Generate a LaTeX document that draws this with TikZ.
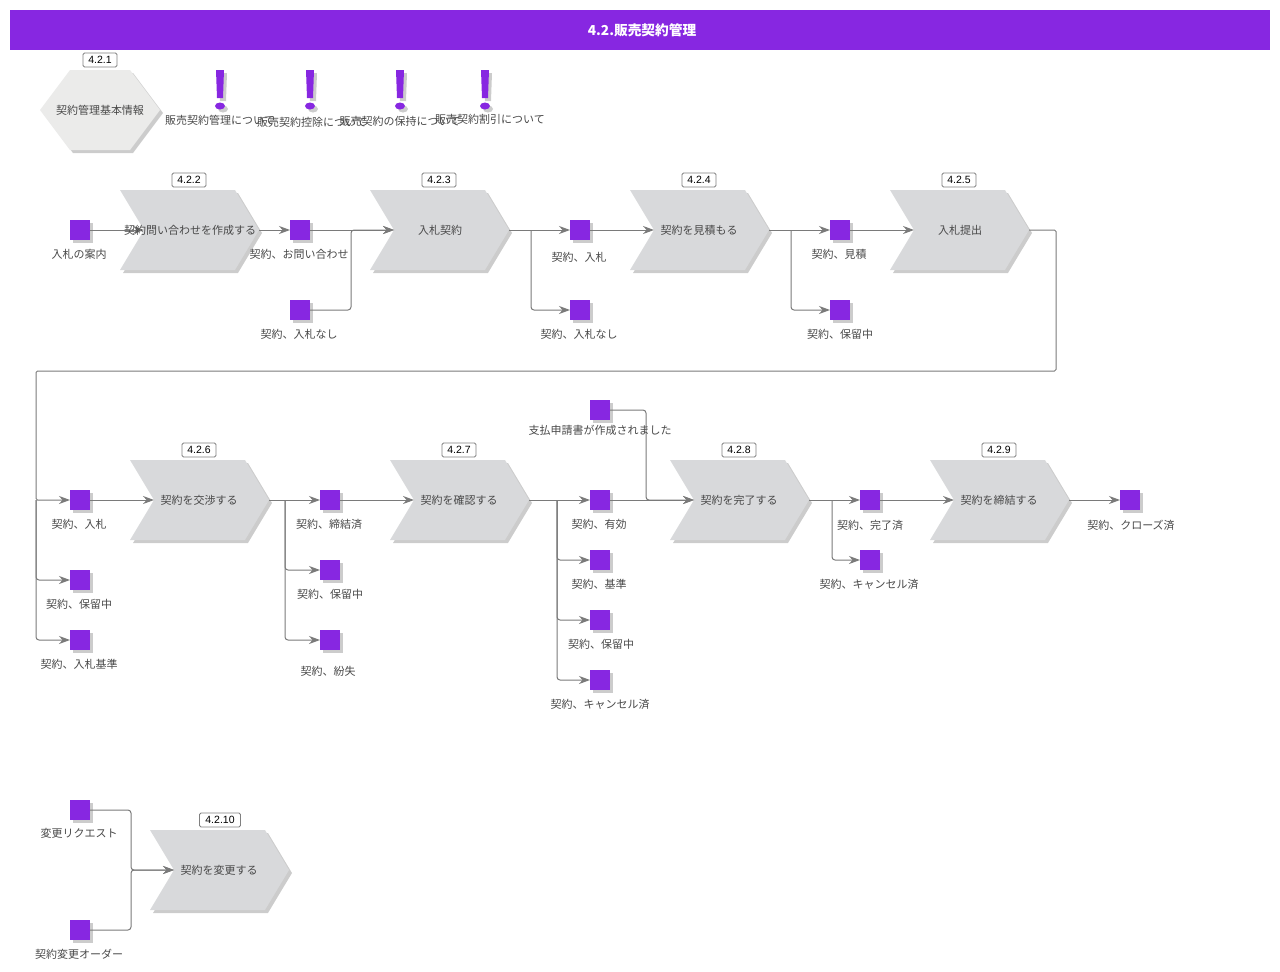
\documentclass[tikz,border=0pt]{standalone}
\usepackage{fontspec}
\setmainfont{Noto Sans CJK JP}
\newfontfamily\numfont{Liberation Sans}
\usetikzlibrary{shapes.symbols,shapes.misc,shadows,arrows.meta}

\definecolor{purp}{HTML}{8727E1}
\definecolor{chev}{HTML}{D8D9DB}
\definecolor{hexa}{HTML}{EBEBEA}
\definecolor{line}{HTML}{7A7A7A}
\definecolor{ink}{HTML}{484848}

\tikzset{
  shade/.style={general shadow={shadow xshift=3pt,shadow yshift=-3pt,fill=black,opacity=.2}},
  warn/.pic={
    \fill[purp,shade] (-4,-20) -- (4,-20) -- (3,8) -- (-3,8) -- cycle;
    \fill[purp,shade] (0,16) ellipse (5 and 3.5);
  }
}

\begin{document}
\begin{tikzpicture}[x=1pt,y=-1pt]

  \tikzstyle{chevron}=[signal,signal to=east,signal from=west,signal pointer angle=118,fill=chev,shade,minimum width=139pt,minimum height=80pt,inner sep=0pt,outer sep=0pt]
  \tikzstyle{state}=[rectangle,fill=purp,shade,minimum size=20pt,inner sep=0pt,outer sep=0pt]
  \tikzstyle{txt}=[inner sep=0pt,text=ink,font=\fontsize{11}{12}\selectfont]
  \tikzstyle{badge}=[draw=black!50,line width=.8pt,fill=white,rounded corners=1.5pt,minimum width=34pt,minimum height=14pt,inner sep=0pt,font=\numfont\fontsize{10.5}{12}\selectfont]
  \tikzstyle{flow}=[draw=line,line width=1pt,rounded corners=3pt,-{Stealth[length=11pt,width=8pt]}]

  \useasboundingbox (0,0) rectangle (1280,972);

  \node[fill=purp,minimum width=1260pt,minimum height=40pt,inner sep=0pt,text=white,font=\bfseries\fontsize{13.7}{15}\selectfont] (head) at (640,30) {\hspace{4pt}4.2.販売契約管理};

  % info
  \path[fill=hexa,shade] (40,110) -- (70,70) -- (130,70) -- (160,110) -- (130,150) -- (70,150) -- cycle;
  \node[txt] (hexname) at (100,110) {契約管理基本情報};
  \node[badge] (b1) at (100,60) {4.2.1};

  \pic at (220,90) {warn};
  \pic at (310,90) {warn};
  \pic at (400,90) {warn};
  \pic at (485,90) {warn};
  \node[txt] (n1) at (220,120) {販売契約管理について};
  \node[txt] (n2) at (312,122) {販売契約控除について};
  \node[txt] (n3) at (400,121) {販売契約の保持について};
  \node[txt] (n4) at (490,119) {販売契約割引について};

  % first row
  \node[chevron] (c2) at (189.5,230) {};
  \node[chevron] (c3) at (439.5,230) {};
  \node[chevron] (c4) at (699.5,230) {};
  \node[chevron] (c5) at (959.5,230) {};

  \node[state] (s1) at (80,230) {};
  \node[state] (s2) at (300,230) {};
  \node[state] (s3) at (300,310) {};
  \node[state] (s4) at (580,230) {};
  \node[state] (s5) at (580,310) {};
  \node[state] (s6) at (840,230) {};
  \node[state] (s7) at (840,310) {};

  % second row
  \node[chevron] (c6) at (199.5,500) {};
  \node[chevron] (c7) at (459.5,500) {};
  \node[chevron] (c8) at (739.5,500) {};
  \node[chevron] (c9) at (999.5,500) {};

  \node[state] (s8) at (80,500) {};
  \node[state] (s9) at (80,580) {};
  \node[state] (s10) at (80,640) {};
  \node[state] (s11) at (330,500) {};
  \node[state] (s12) at (330,570) {};
  \node[state] (s13) at (330,640) {};
  \node[state] (s14) at (600,410) {};
  \node[state] (s15) at (600,500) {};
  \node[state] (s16) at (600,560) {};
  \node[state] (s17) at (600,620) {};
  \node[state] (s18) at (600,680) {};
  \node[state] (s19) at (870,500) {};
  \node[state] (s20) at (870,560) {};
  \node[state] (s21) at (1130,500) {};

  % change
  \node[chevron] (c10) at (219.5,870) {};
  \node[state] (s22) at (80,810) {};
  \node[state] (s23) at (80,930) {};

  % bends
  \coordinate (k1) at (351,230);
  \coordinate (k2) at (531,230);
  \coordinate (k3) at (791,230);
  \coordinate (k4) at (1056,371);
  \coordinate (k5) at (36,500);
  \coordinate (k6) at (285,500);
  \coordinate (k7) at (557,500);
  \coordinate (k8) at (646,500);
  \coordinate (k9) at (832,500);
  \coordinate (k10) at (131,870);

  \draw[flow] (s1) -- (c2);
  \draw[flow] (c2) -- (s2);
  \draw[flow] (s2) -- (c3);
  \draw[flow] (s3) -| (k1) -- (c3);
  \draw[flow] (c3) -- (s4);
  \draw[flow] (k2) |- (s5);
  \draw[flow] (s4) -- (c4);
  \draw[flow] (c4) -- (s6);
  \draw[flow] (k3) |- (s7);
  \draw[flow] (s6) -- (c5);
  \draw[flow,rounded corners=1.5pt] (c5) -| (k4) -| (k5) -- (s8);
  \draw[flow] (k5) |- (s9);
  \draw[flow] (k5) |- (s10);

  \draw[flow] (s8) -- (c6);
  \draw[flow] (c6) -- (s11);
  \draw[flow] (k6) |- (s12);
  \draw[flow] (k6) |- (s13);
  \draw[flow] (s11) -- (c7);
  \draw[flow] (c7) -- (s15);
  \draw[flow] (k7) |- (s16);
  \draw[flow] (k7) |- (s17);
  \draw[flow] (k7) |- (s18);
  \draw[flow] (s15) -- (c8);
  \draw[flow] (s14) -| (k8) -- (c8);
  \draw[flow] (c8) -- (s19);
  \draw[flow] (k9) |- (s20);
  \draw[flow] (s19) -- (c9);
  \draw[flow] (c9) -- (s21);

  \draw[flow] (s22) -| (k10) -- (c10);
  \draw[flow] (s23) -| (k10) -- (c10);

  % badges
  \node[badge] (b2) at (189,180) {4.2.2};
  \node[badge] (b3) at (439,180) {4.2.3};
  \node[badge] (b4) at (699,180) {4.2.4};
  \node[badge] (b5) at (959,180) {4.2.5};
  \node[badge] (b6) at (199,450) {4.2.6};
  \node[badge] (b7) at (459,450) {4.2.7};
  \node[badge] (b8) at (739,450) {4.2.8};
  \node[badge] (b9) at (999,450) {4.2.9};
  \node[badge,minimum width=41pt] (b10) at (220,820) {4.2.10};

  % process names
  \node[txt] (t2) at (190,230) {契約問い合わせを作成する};
  \node[txt] (t3) at (440,230) {入札契約};
  \node[txt] (t4) at (699,230) {契約を見積もる};
  \node[txt] (t5) at (960,230) {入札提出};
  \node[txt] (t6) at (199,500) {契約を交渉する};
  \node[txt] (t7) at (459,500) {契約を確認する};
  \node[txt] (t8) at (739,500) {契約を完了する};
  \node[txt] (t9) at (999,500) {契約を締結する};
  \node[txt] (t10) at (219,870) {契約を変更する};

  % state names
  \node[txt] (l1) at (79,254) {入札の案内};
  \node[txt] (l2) at (299,254) {契約、お問い合わせ};
  \node[txt] (l3) at (299,334) {契約、入札なし};
  \node[txt] (l4) at (579,257) {契約、入札};
  \node[txt] (l5) at (579,334) {契約、入札なし};
  \node[txt] (l6) at (839,254) {契約、見積};
  \node[txt] (l7) at (840,334) {契約、保留中};
  \node[txt] (l8) at (79,524) {契約、入札};
  \node[txt] (l9) at (79,604) {契約、保留中};
  \node[txt] (l10) at (79,664) {契約、入札基準};
  \node[txt] (l11) at (329,524) {契約、締結済};
  \node[txt] (l12) at (330,594) {契約、保留中};
  \node[txt] (l13) at (328,671) {契約、紛失};
  \node[txt] (l14) at (600,430) {支払申請書が作成されました};
  \node[txt] (l15) at (599,524) {契約、有効};
  \node[txt] (l16) at (599,584) {契約、基準};
  \node[txt] (l17) at (601,644) {契約、保留中};
  \node[txt] (l18) at (600,704) {契約、キャンセル済};
  \node[txt] (l19) at (870,525) {契約、完了済};
  \node[txt] (l20) at (869,584) {契約、キャンセル済};
  \node[txt] (l21) at (1131,525) {契約、クローズ済};
  \node[txt] (l22) at (79,833) {変更リクエスト};
  \node[txt] (l23) at (79,954) {契約変更オーダー};

\end{tikzpicture}
\end{document}
